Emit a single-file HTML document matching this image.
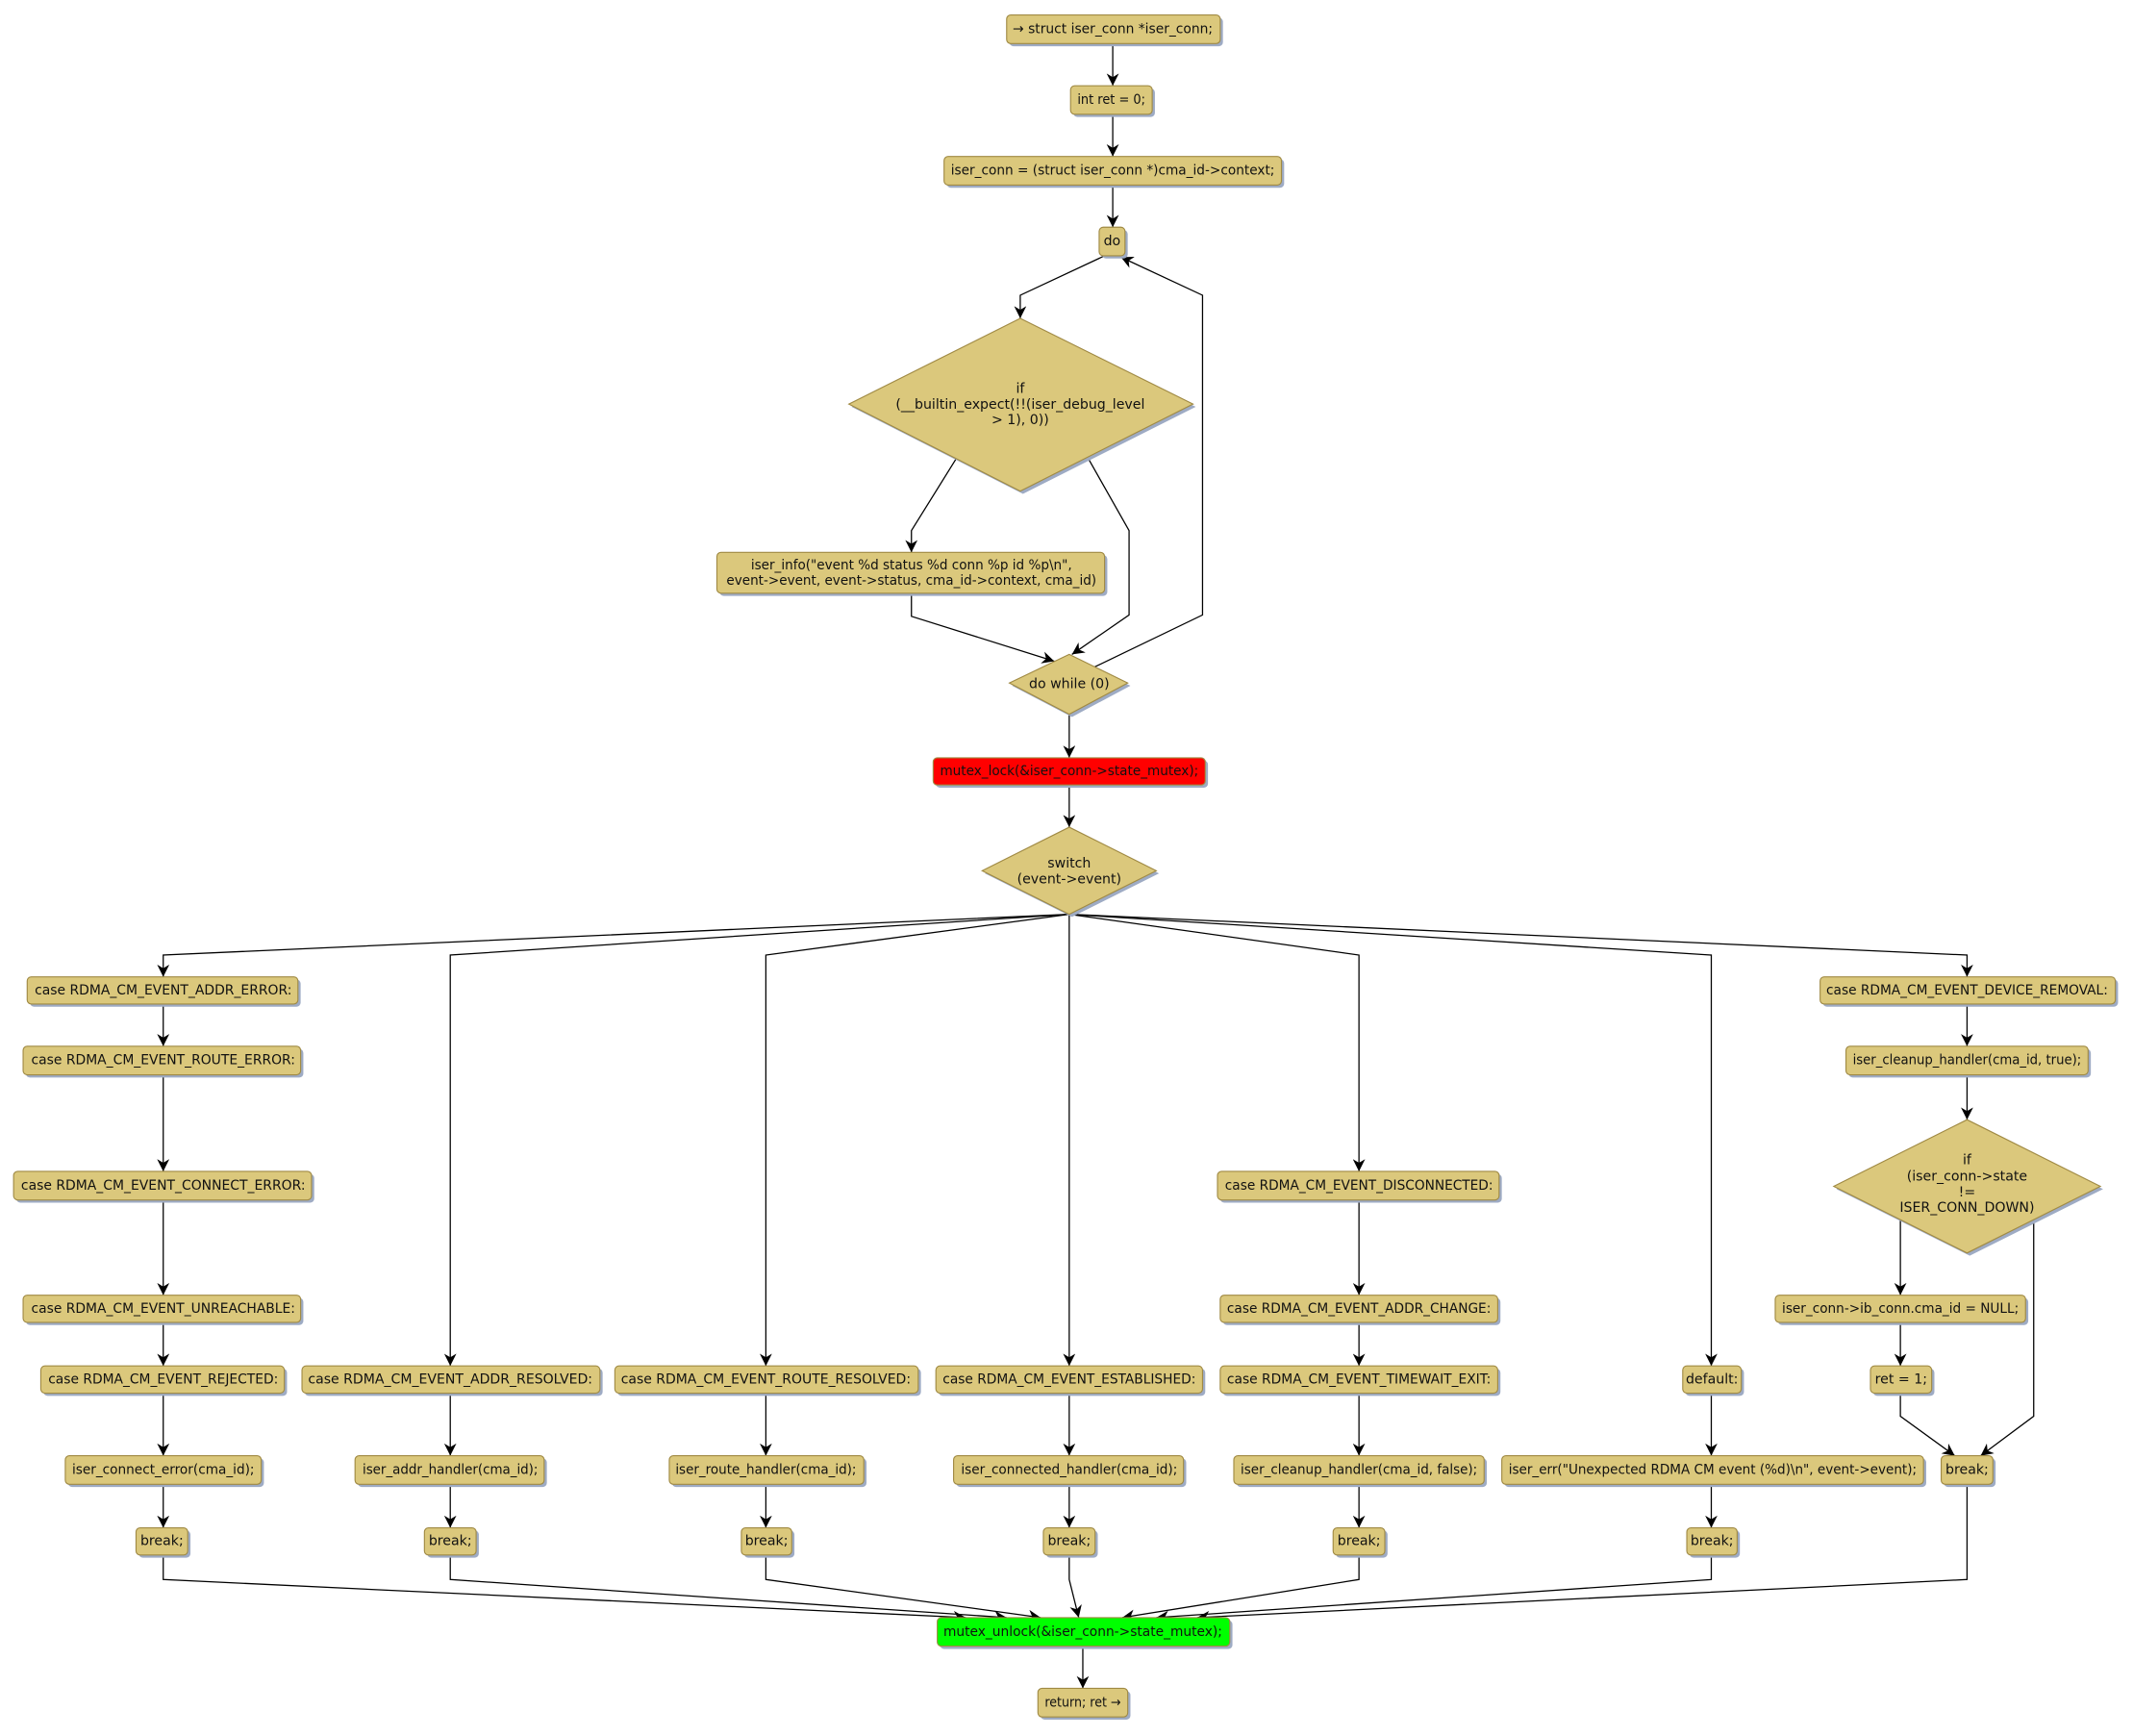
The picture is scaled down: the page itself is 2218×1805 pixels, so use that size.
<!DOCTYPE html>
<html><head><meta charset="utf-8"><style>
html,body{margin:0;padding:0;background:#fff}
svg{display:block}
.s{fill:#9eabc4}
.b{fill:#dbc87c;stroke:#a08a44;stroke-width:0.8}
.r{fill:#ff0000;stroke:#a08a44;stroke-width:0.8}
.g{fill:#00ff00;stroke:#a08a44;stroke-width:0.8}
text{font-family:"DejaVu Sans","Liberation Sans",sans-serif;font-size:10px;fill:#111;text-anchor:middle;dominant-baseline:central}
.e{fill:none;stroke:#000;stroke-width:0.9;marker-end:url(#a)}
.n{fill:none;stroke:#000;stroke-width:0.9}
</style></head><body>
<svg width="2218" height="1805" viewBox="0 0 1568 1276" xmlns="http://www.w3.org/2000/svg">
<defs><marker id="a" viewBox="0 0 10 10" refX="10" refY="5" markerWidth="9" markerHeight="9" markerUnits="userSpaceOnUse" orient="auto"><path d="M0,0 L10,5 L0,10 L3,5 z" fill="#000"/></marker></defs>

<path class="e" d="M818,32 V63"/>
<path class="e" d="M818,84 V115"/>
<path class="e" d="M818,136 V167"/>
<path class="e" d="M812,188 L750,217 V234"/>
<path class="e" d="M703,337 L670,390 V406"/>
<path class="e" d="M800,337 L830,390 V452 L788,481"/>
<path class="e" d="M670,436 V453 L775,486"/>
<path class="e" d="M801,492 L884,452 V217 L824,189"/>
<path class="e" d="M786,525 V557"/>
<path class="e" d="M786,577 V608"/>
<path class="e" d="M786,672 L120,702 V718"/>
<path class="e" d="M786,672 L331,702 V1004"/>
<path class="e" d="M786,672 L563,702 V1004"/>
<path class="e" d="M786,672 V1004"/>
<path class="e" d="M786,672 L999,702 V861"/>
<path class="e" d="M786,672 L1258,702 V1004"/>
<path class="e" d="M786,672 L1446,702 V718"/>
<path class="e" d="M120,738 V769"/>
<path class="e" d="M120,790 V861"/>
<path class="e" d="M120,882 V952"/>
<path class="e" d="M120,972 V1004"/>
<path class="e" d="M120,1024 V1070"/>
<path class="e" d="M120,1091 V1123"/>
<path class="e" d="M120,1143 V1161 L710,1189"/>
<path class="e" d="M331,1024 V1070"/>
<path class="e" d="M331,1091 V1123"/>
<path class="e" d="M331,1143 V1161 L740,1189"/>
<path class="e" d="M563,1024 V1070"/>
<path class="e" d="M563,1091 V1123"/>
<path class="e" d="M563,1143 V1161 L765,1189"/>
<path class="e" d="M786,1024 V1070"/>
<path class="e" d="M786,1091 V1123"/>
<path class="e" d="M786,1143 V1161 L793,1189"/>
<path class="e" d="M999,882 V952"/>
<path class="e" d="M999,972 V1004"/>
<path class="e" d="M999,1024 V1070"/>
<path class="e" d="M999,1091 V1123"/>
<path class="e" d="M999,1143 V1161 L825,1189"/>
<path class="e" d="M1258,1024 V1070"/>
<path class="e" d="M1258,1091 V1123"/>
<path class="e" d="M1258,1143 V1161 L850,1189"/>
<path class="e" d="M1446,738 V769"/>
<path class="e" d="M1446,790 V823"/>
<path class="e" d="M1397,897 V952"/>
<path class="e" d="M1495,898 V1041 L1456,1070"/>
<path class="e" d="M1397,972 V1004"/>
<path class="e" d="M1397,1024 V1041 L1437,1070"/>
<path class="e" d="M1446,1091 V1161 L880,1189"/>
<path class="e" d="M796,1210 V1241"/>

<rect class="s" x="742" y="13" width="157" height="21" rx="3"/><rect class="b" x="740" y="11" width="157" height="21" rx="3"/><text x="818" y="21.5" textLength="147" lengthAdjust="spacingAndGlyphs">→ struct iser_conn *iser_conn;</text>
<rect class="s" x="789" y="65" width="60" height="21" rx="3"/><rect class="b" x="787" y="63" width="60" height="21" rx="3"/><text x="817" y="73.5" textLength="50" lengthAdjust="spacingAndGlyphs">int ret = 0;</text>
<rect class="s" x="696" y="117" width="248" height="21" rx="3"/><rect class="b" x="694" y="115" width="248" height="21" rx="3"/><text x="818" y="125.5" textLength="238" lengthAdjust="spacingAndGlyphs">iser_conn = (struct iser_conn *)cma_id-&gt;context;</text>
<rect class="s" x="810" y="169" width="19" height="21" rx="3"/><rect class="b" x="808" y="167" width="19" height="21" rx="3"/><text x="817.5" y="177.5">do</text>

<polygon class="s" points="752,236 879,299 752,363 626,299"/><polygon class="b" points="750,234 877,297 750,361 624,297"/>
<text x="750" y="286">if</text><text x="750" y="297.5">(__builtin_expect(!!(iser_debug_level</text><text x="750" y="309">&gt; 1), 0))</text>

<rect class="s" x="529" y="408" width="285" height="30" rx="3"/><rect class="b" x="527" y="406" width="285" height="30" rx="3"/>
<text x="670" y="415.5" textLength="236" lengthAdjust="spacingAndGlyphs">iser_info("event %d status %d conn %p id %p\n",</text>
<text x="670" y="427" textLength="272" lengthAdjust="spacingAndGlyphs">event-&gt;event, event-&gt;status, cma_id-&gt;context, cma_id)</text>

<polygon class="s" points="788,483 831,504 788,527 744,504"/><polygon class="b" points="786,481 829,502 786,525 742,502"/><text x="786" y="503">do while (0)</text>

<rect class="s" x="688" y="559" width="200" height="20" rx="3"/><rect class="r" x="686" y="557" width="200" height="20" rx="3"/><text x="786" y="567" textLength="190" lengthAdjust="spacingAndGlyphs">mutex_lock(&amp;iser_conn-&gt;state_mutex);</text>

<polygon class="s" points="788,610 852,642 788,674 724,642"/><polygon class="b" points="786,608 850,640 786,672 722,640"/><text x="786" y="635">switch</text><text x="786" y="646.5">(event-&gt;event)</text>

<rect class="s" x="22" y="720" width="199" height="20" rx="3"/><rect class="b" x="20" y="718" width="199" height="20" rx="3"/><text x="120" y="728" textLength="189" lengthAdjust="spacingAndGlyphs">case RDMA_CM_EVENT_ADDR_ERROR:</text>
<rect class="s" x="19" y="771" width="204" height="21" rx="3"/><rect class="b" x="17" y="769" width="204" height="21" rx="3"/><text x="120" y="779.5" textLength="194" lengthAdjust="spacingAndGlyphs">case RDMA_CM_EVENT_ROUTE_ERROR:</text>
<rect class="s" x="12" y="863" width="219" height="21" rx="3"/><rect class="b" x="10" y="861" width="219" height="21" rx="3"/><text x="120" y="871.5" textLength="209" lengthAdjust="spacingAndGlyphs">case RDMA_CM_EVENT_CONNECT_ERROR:</text>
<rect class="s" x="19" y="954" width="204" height="20" rx="3"/><rect class="b" x="17" y="952" width="204" height="20" rx="3"/><text x="120" y="962" textLength="194" lengthAdjust="spacingAndGlyphs">case RDMA_CM_EVENT_UNREACHABLE:</text>
<rect class="s" x="32" y="1006" width="179" height="20" rx="3"/><rect class="b" x="30" y="1004" width="179" height="20" rx="3"/><text x="120" y="1014" textLength="169" lengthAdjust="spacingAndGlyphs">case RDMA_CM_EVENT_REJECTED:</text>
<rect class="s" x="50" y="1072" width="144" height="21" rx="3"/><rect class="b" x="48" y="1070" width="144" height="21" rx="3"/><text x="120" y="1080.5" textLength="134" lengthAdjust="spacingAndGlyphs">iser_connect_error(cma_id);</text>
<rect class="s" x="102" y="1125" width="38" height="20" rx="3"/><rect class="b" x="100" y="1123" width="38" height="20" rx="3"/><text x="119" y="1133">break;</text>
<rect class="s" x="224" y="1006" width="219" height="20" rx="3"/><rect class="b" x="222" y="1004" width="219" height="20" rx="3"/><text x="331" y="1014" textLength="209" lengthAdjust="spacingAndGlyphs">case RDMA_CM_EVENT_ADDR_RESOLVED:</text>
<rect class="s" x="263" y="1072" width="139" height="21" rx="3"/><rect class="b" x="261" y="1070" width="139" height="21" rx="3"/><text x="331" y="1080.5" textLength="129" lengthAdjust="spacingAndGlyphs">iser_addr_handler(cma_id);</text>
<rect class="s" x="314" y="1125" width="38" height="20" rx="3"/><rect class="b" x="312" y="1123" width="38" height="20" rx="3"/><text x="331" y="1133">break;</text>
<rect class="s" x="454" y="1006" width="223" height="20" rx="3"/><rect class="b" x="452" y="1004" width="223" height="20" rx="3"/><text x="563" y="1014" textLength="213" lengthAdjust="spacingAndGlyphs">case RDMA_CM_EVENT_ROUTE_RESOLVED:</text>
<rect class="s" x="494" y="1072" width="143" height="21" rx="3"/><rect class="b" x="492" y="1070" width="143" height="21" rx="3"/><text x="563" y="1080.5" textLength="133" lengthAdjust="spacingAndGlyphs">iser_route_handler(cma_id);</text>
<rect class="s" x="547" y="1125" width="37" height="20" rx="3"/><rect class="b" x="545" y="1123" width="37" height="20" rx="3"/><text x="563.5" y="1133">break;</text>
<rect class="s" x="690" y="1006" width="196" height="20" rx="3"/><rect class="b" x="688" y="1004" width="196" height="20" rx="3"/><text x="786" y="1014" textLength="186" lengthAdjust="spacingAndGlyphs">case RDMA_CM_EVENT_ESTABLISHED:</text>
<rect class="s" x="703" y="1072" width="169" height="21" rx="3"/><rect class="b" x="701" y="1070" width="169" height="21" rx="3"/><text x="786" y="1080.5" textLength="159" lengthAdjust="spacingAndGlyphs">iser_connected_handler(cma_id);</text>
<rect class="s" x="769" y="1125" width="38" height="20" rx="3"/><rect class="b" x="767" y="1123" width="38" height="20" rx="3"/><text x="786" y="1133">break;</text>
<rect class="s" x="897" y="863" width="207" height="21" rx="3"/><rect class="b" x="895" y="861" width="207" height="21" rx="3"/><text x="999" y="871.5" textLength="197" lengthAdjust="spacingAndGlyphs">case RDMA_CM_EVENT_DISCONNECTED:</text>
<rect class="s" x="899" y="954" width="204" height="20" rx="3"/><rect class="b" x="897" y="952" width="204" height="20" rx="3"/><text x="999" y="962" textLength="194" lengthAdjust="spacingAndGlyphs">case RDMA_CM_EVENT_ADDR_CHANGE:</text>
<rect class="s" x="899" y="1006" width="204" height="20" rx="3"/><rect class="b" x="897" y="1004" width="204" height="20" rx="3"/><text x="999" y="1014" textLength="194" lengthAdjust="spacingAndGlyphs">case RDMA_CM_EVENT_TIMEWAIT_EXIT:</text>
<rect class="s" x="909" y="1072" width="184" height="21" rx="3"/><rect class="b" x="907" y="1070" width="184" height="21" rx="3"/><text x="999" y="1080.5" textLength="174" lengthAdjust="spacingAndGlyphs">iser_cleanup_handler(cma_id, false);</text>
<rect class="s" x="982" y="1125" width="38" height="20" rx="3"/><rect class="b" x="980" y="1123" width="38" height="20" rx="3"/><text x="999" y="1133">break;</text>
<rect class="s" x="1239" y="1006" width="43" height="20" rx="3"/><rect class="b" x="1237" y="1004" width="43" height="20" rx="3"/><text x="1258.5" y="1014">default:</text>
<rect class="s" x="1106" y="1072" width="310" height="21" rx="3"/><rect class="b" x="1104" y="1070" width="310" height="21" rx="3"/><text x="1259" y="1080.5" textLength="300" lengthAdjust="spacingAndGlyphs">iser_err("Unexpected RDMA CM event (%d)\n", event-&gt;event);</text>
<rect class="s" x="1242" y="1125" width="37" height="20" rx="3"/><rect class="b" x="1240" y="1123" width="37" height="20" rx="3"/><text x="1258.5" y="1133">break;</text>
<rect class="s" x="1340" y="720" width="217" height="20" rx="3"/><rect class="b" x="1338" y="718" width="217" height="20" rx="3"/><text x="1446" y="728" textLength="207" lengthAdjust="spacingAndGlyphs">case RDMA_CM_EVENT_DEVICE_REMOVAL:</text>
<rect class="s" x="1359" y="771" width="178" height="21" rx="3"/><rect class="b" x="1357" y="769" width="178" height="21" rx="3"/><text x="1446" y="779.5" textLength="168" lengthAdjust="spacingAndGlyphs">iser_cleanup_handler(cma_id, true);</text>
<polygon class="s" points="1448,825 1546,874 1448,923 1350,874"/><polygon class="b" points="1446,823 1544,872 1446,921 1348,872"/>
<text x="1446" y="853">if</text><text x="1446" y="865">(iser_conn-&gt;state</text><text x="1446" y="876.5">!=</text><text x="1446" y="888">ISER_CONN_DOWN)</text>
<rect class="s" x="1307" y="954" width="184" height="20" rx="3"/><rect class="b" x="1305" y="952" width="184" height="20" rx="3"/><text x="1397" y="962" textLength="174" lengthAdjust="spacingAndGlyphs">iser_conn-&gt;ib_conn.cma_id = NULL;</text>
<rect class="s" x="1377" y="1006" width="45" height="20" rx="3"/><rect class="b" x="1375" y="1004" width="45" height="20" rx="3"/><text x="1397.5" y="1014">ret = 1;</text>
<rect class="s" x="1429" y="1072" width="38" height="21" rx="3"/><rect class="b" x="1427" y="1070" width="38" height="21" rx="3"/><text x="1446" y="1080.5">break;</text>

<rect class="s" x="691" y="1191" width="215" height="21" rx="3"/><rect class="g" x="689" y="1189" width="215" height="21" rx="3"/><text x="796" y="1199.5" textLength="205" lengthAdjust="spacingAndGlyphs">mutex_unlock(&amp;iser_conn-&gt;state_mutex);</text>
<rect class="s" x="765" y="1243" width="66" height="21" rx="3"/><rect class="b" x="763" y="1241" width="66" height="21" rx="3"/><text x="796" y="1251.5" textLength="56" lengthAdjust="spacingAndGlyphs">return; ret →</text>
</svg>
</body></html>
